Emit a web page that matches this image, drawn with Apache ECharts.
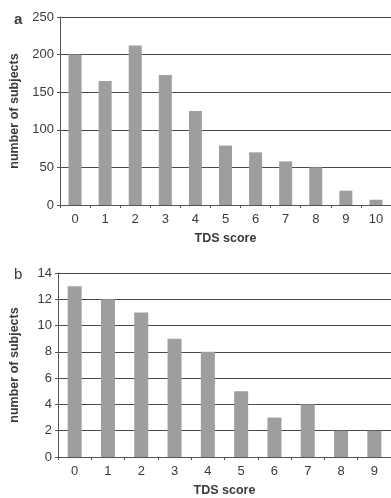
<!DOCTYPE html>
<html><head><meta charset="utf-8">
<script src="https://cdn.jsdelivr.net/npm/echarts@6/dist/echarts.min.js"></script>
<style>html,body{margin:0;padding:0;background:#fff}#c{width:391px;height:498px}</style>
</head><body><div id="c"></div>
<script>
const categoriesA = ['0','1','2','3','4','5','6','7','8','9','10'];
const valuesA = [200,165,212,173,125,79,70,58,50,19,7];
const yTicksA = {min:0, max:250, interval:50};
const categoriesB = ['0','1','2','3','4','5','6','7','8','9'];
const valuesB = [13,12,11,9,8,5,3,4,2,2];
const yTicksB = {min:0, max:14, interval:2};
const panelLabels = ['a','b'];
const xTitle = 'TDS score';
const yTitle = 'number of subjects';

const txt = '#3a3a3a';
const font = 'Liberation Sans, Arial, sans-serif';
function xAxis(cats, idx){
  return {type:'category', gridIndex:idx, data:cats, boundaryGap:true,
    axisLine:{lineStyle:{color:'#555', width:1}},
    axisTick:{show:true, length:3, lineStyle:{color:'#555'}},
    axisLabel:{color:txt, fontSize:13, fontFamily:font, margin:8},
    name:xTitle, nameLocation:'middle', nameGap:27,
    nameTextStyle:{color:txt, fontSize:12.5, fontWeight:'bold', fontFamily:font}};
}
function yAxis(t, idx){
  return {type:'value', gridIndex:idx, min:t.min, max:t.max, interval:t.interval,
    axisLine:{show:true, lineStyle:{color:'#555'}},
    axisTick:{show:true, length:3, lineStyle:{color:'#555'}},
    axisLabel:{color:txt, fontSize:13, fontFamily:font, margin:6},
    splitLine:{show:true, lineStyle:{color:'#4a4a4a', width:1}},
    name:yTitle, nameLocation:'middle', nameGap:idx===0?39:37, nameRotate:90,
    nameTextStyle:{color:txt, fontSize:12.5, fontWeight:'bold', fontFamily:font}};
}
const chart = echarts.init(document.getElementById('c'), null, {renderer:'canvas'});
chart.setOption({
  animation:false,
  backgroundColor:'#fff',
  title:[
    {text:panelLabels[0], left:9, top:7, textStyle:{color:txt, fontSize:15, fontWeight:'bold', fontFamily:font}},
    {text:panelLabels[1], left:9, top:262, textStyle:{color:txt, fontSize:15, fontWeight:'normal', fontFamily:font}}
  ],
  grid:[
    {left:60, top:17, width:332, height:188},
    {left:58, top:273, width:338, height:188}
  ],
  xAxis:[xAxis(categoriesA,0), xAxis(categoriesB,1)],
  yAxis:[yAxis(yTicksA,0), yAxis(yTicksB,1)],
  series:[
    {type:'bar', xAxisIndex:0, yAxisIndex:0, data:valuesA, barWidth:13, itemStyle:{color:'#9e9e9e'}},
    {type:'bar', xAxisIndex:1, yAxisIndex:1, data:valuesB, barWidth:14, itemStyle:{color:'#9e9e9e'}}
  ]
});
</script></body></html>
